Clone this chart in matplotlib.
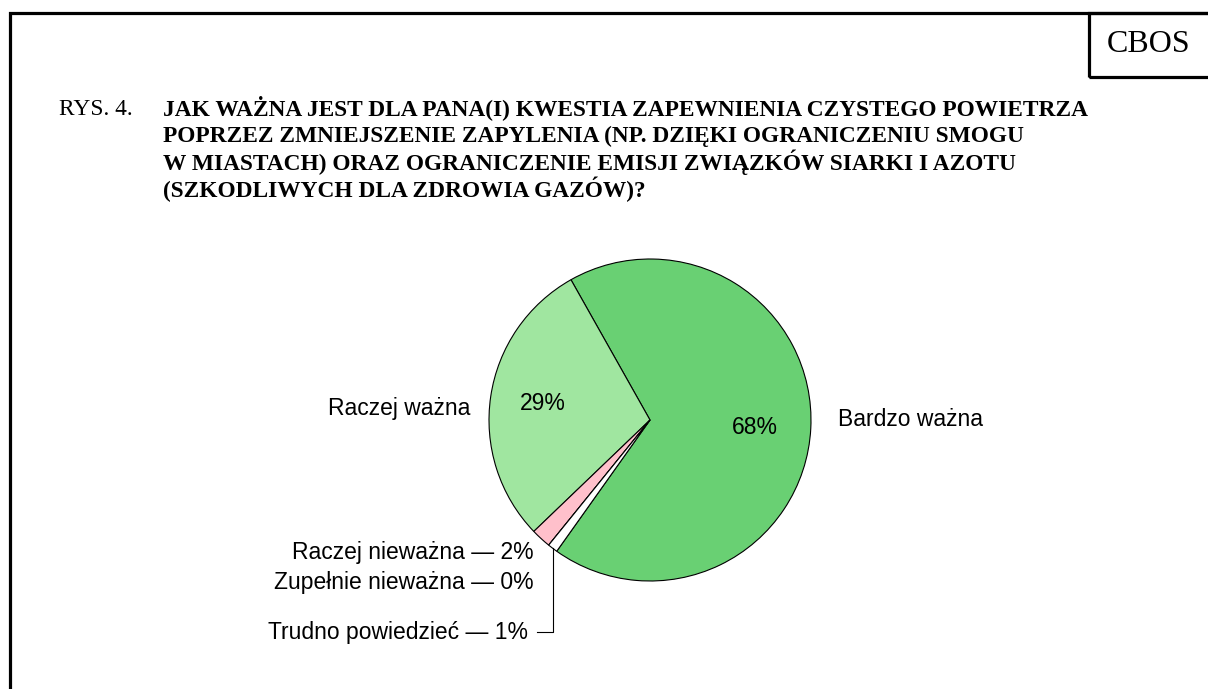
import numpy as np
import matplotlib.pyplot as plt
from matplotlib.patches import Rectangle

# data
labels = ["Bardzo ważna", "Raczej ważna", "Raczej nieważna", "Zupełnie nieważna", "Trudno powiedzieć"]
values = [68, 29, 2, 0, 1]
colors = ["#69d073", "#a0e6a0", "#ffc0cb", "#ffffff", "#ffffff"]

title_lines = [
    "JAK WAŻNA JEST DLA PANA(I) KWESTIA ZAPEWNIENIA CZYSTEGO POWIETRZA",
    "POPRZEZ ZMNIEJSZENIE ZAPYLENIA (NP. DZIĘKI OGRANICZENIU SMOGU",
    "W MIASTACH) ORAZ OGRANICZENIE EMISJI ZWIĄZKÓW SIARKI I AZOTU",
    "(SZKODLIWYCH DLA ZDROWIA GAZÓW)?",
]

W, H = 1208, 689
fig = plt.figure(figsize=(W / 100, H / 100), dpi=100)
ax = fig.add_axes([0, 0, 1, 1])

# pie
cx, cy, r = 650, H - 420, 161
start = 90 + 29.4 - values[0] / 100 * 360 + 360
wedges, _ = ax.pie(values, colors=colors, startangle=start, counterclock=True,
                   center=(cx, cy), radius=r, frame=True,
                   wedgeprops=dict(edgecolor="black", linewidth=0.8))
ax.set_xlim(0, W)
ax.set_ylim(0, H)
ax.set_aspect("equal")
ax.axis("off")

# frame + CBOS box
ax.plot([10, 10, W + 5], [-5, H - 13, H - 13], color="black", lw=2.3, solid_joinstyle="miter")
ax.add_patch(Rectangle((1089, H - 77), 130, 64, fill=False, ec="black", lw=2.3))
ax.text(1149, H - 45, "CBOS", fontsize=23, family="Liberation Serif", ha="center", va="center")

# title
serif = "Liberation Serif"
ax.text(59, H - 115, "RYS. 4.", fontsize=16.8, family=serif, va="baseline")
for i, line in enumerate(title_lines):
    ax.text(163, H - 115 - i * 27.3, line, fontsize=16.8, family=serif,
            weight="bold", va="baseline")

sans = "Liberation Sans"
fs = 16.5
ax.text(755, H - 427, f"{values[0]}%", fontsize=fs, family=sans, ha="center", va="center")
ax.text(543, H - 403, f"{values[1]}%", fontsize=fs, family=sans, ha="center", va="center")
ax.text(838, H - 420, labels[0], fontsize=fs, family=sans, ha="left", va="center")
ax.text(470, H - 408, labels[1], fontsize=fs, family=sans, ha="right", va="center")
ax.text(534, H - 553, f"{labels[2]} — {values[2]}%", fontsize=fs, family=sans, ha="right", va="center")
ax.text(534, H - 583, f"{labels[3]} — {values[3]}%", fontsize=fs, family=sans, ha="right", va="center")
ax.text(528, H - 632, f"{labels[4]} — {values[4]}%", fontsize=fs, family=sans, ha="right", va="center")

# leader line for Trudno powiedzieć
w = wedges[4]
mid = np.deg2rad((w.theta1 + w.theta2) / 2)
px, py = cx + r * np.cos(mid), cy + r * np.sin(mid)
ax.plot([px, px, 537], [py, H - 632, H - 632], color="black", lw=0.8)

fig.savefig("out.png", dpi=100)
